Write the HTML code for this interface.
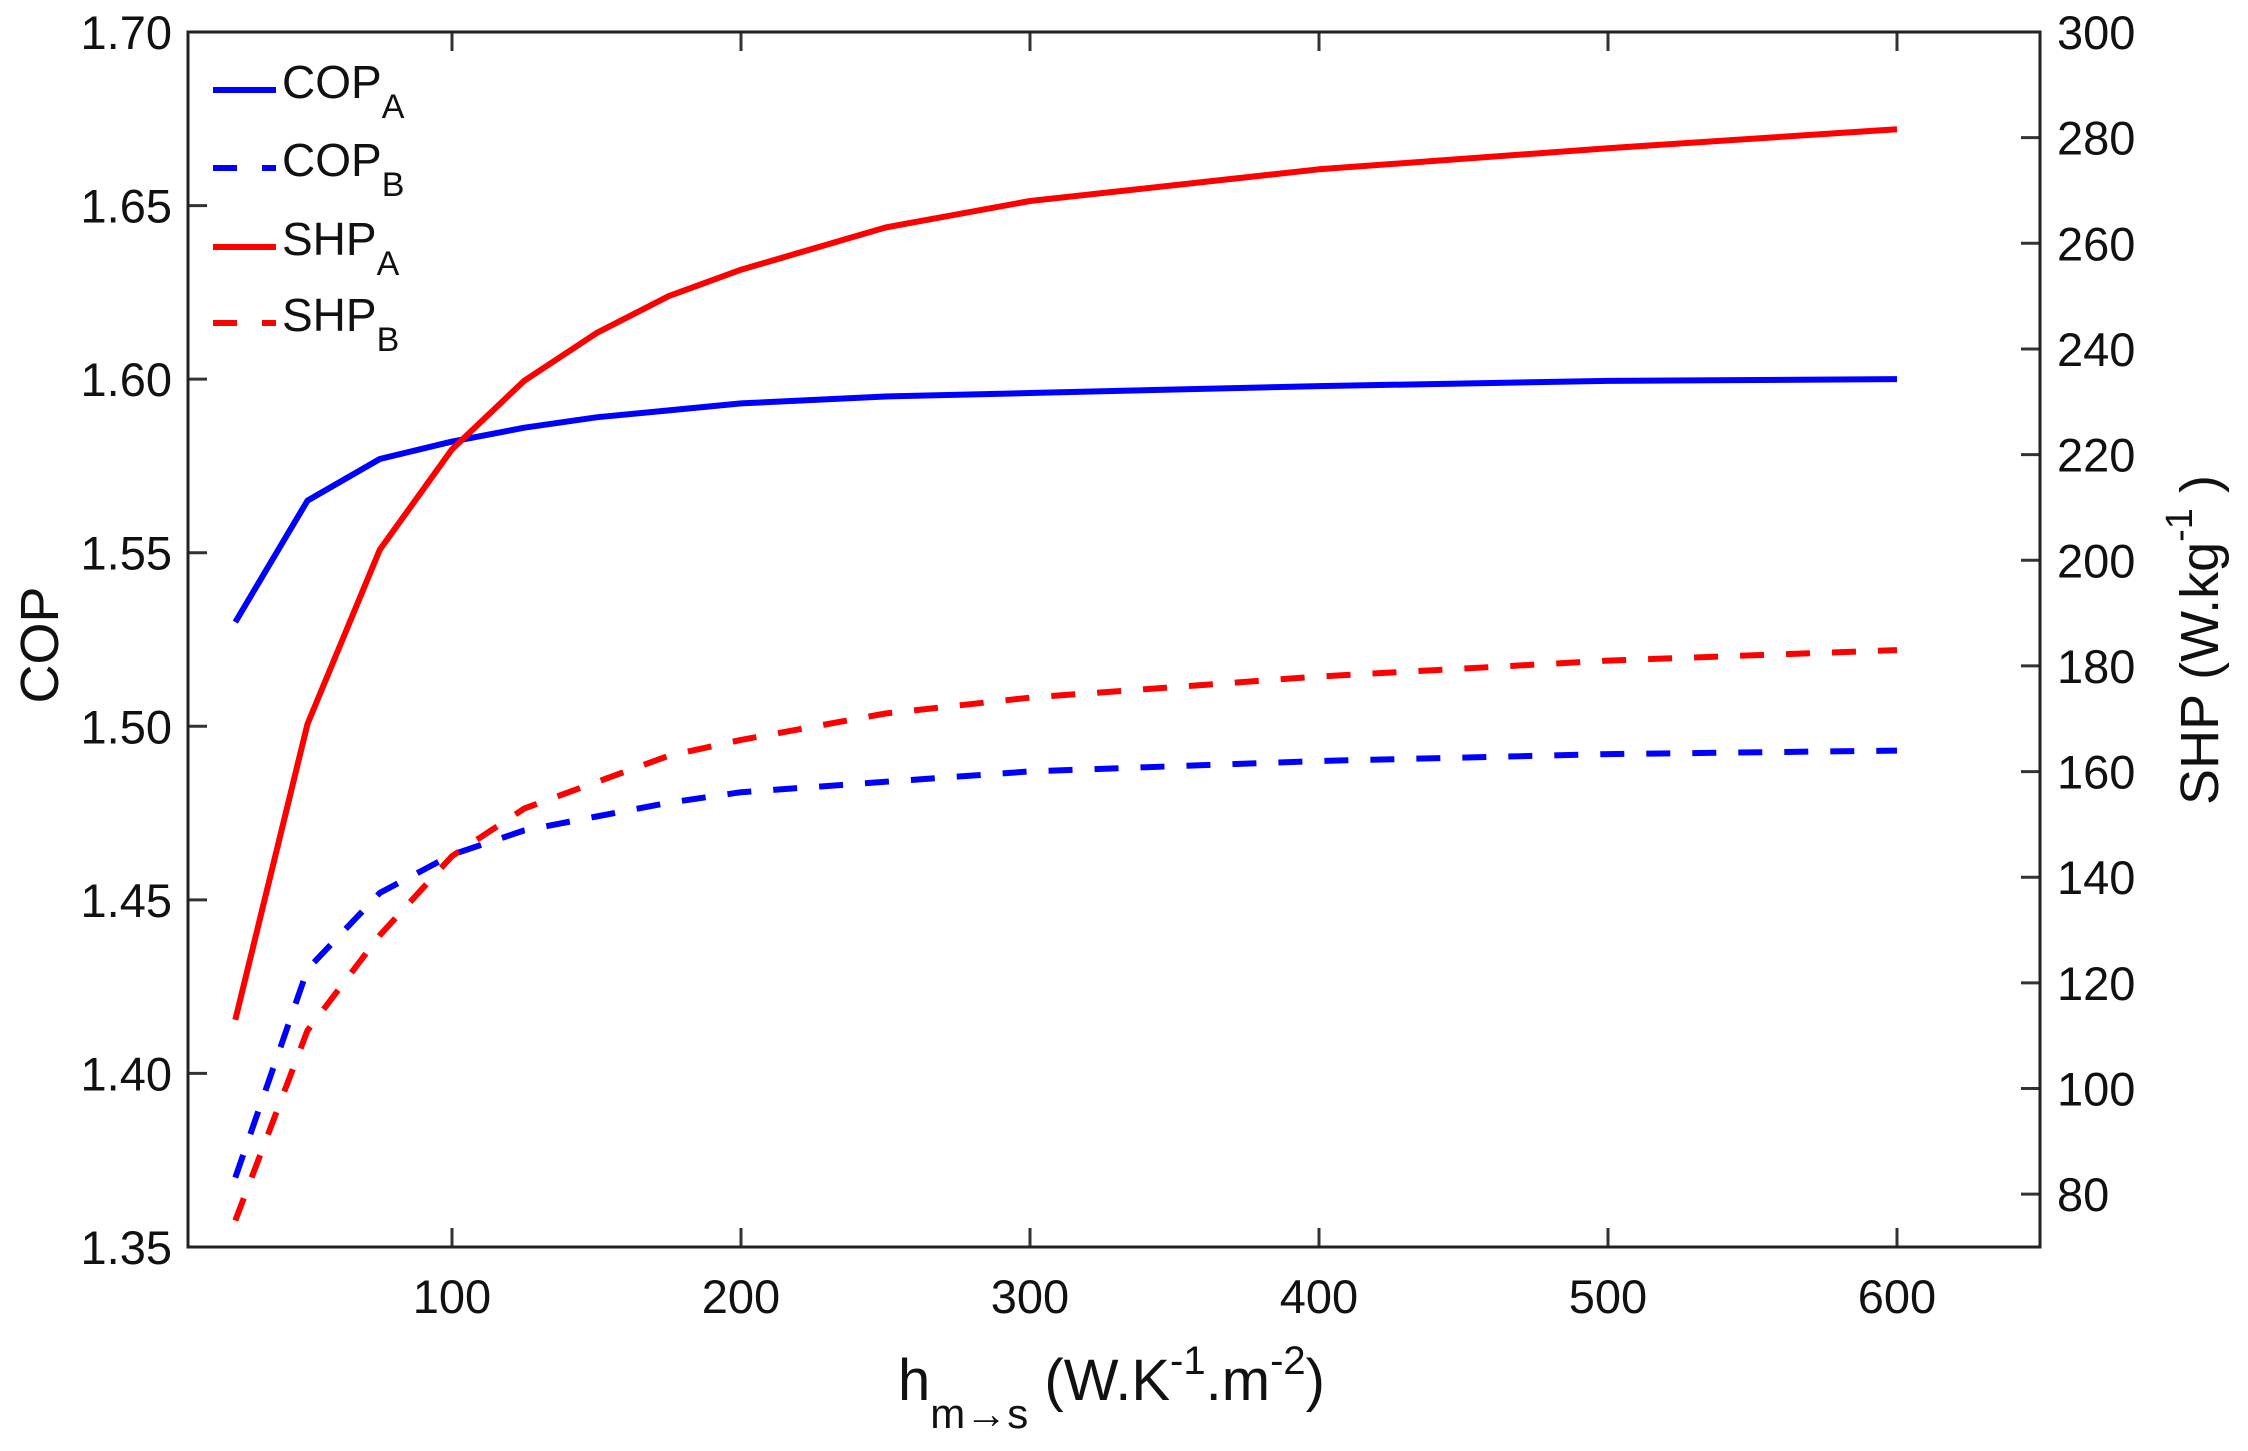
<!DOCTYPE html>
<html><head><meta charset="utf-8"><style>
html,body{margin:0;padding:0;background:#fff;}
svg{display:block;font-family:"Liberation Sans",Arial,sans-serif;}
</style></head><body>
<svg id="s" width="2248" height="1451" viewBox="0 0 2248 1451" xmlns="http://www.w3.org/2000/svg">
<rect width="2248" height="1451" fill="#fff"/>
<g id="ticks" stroke="#333" stroke-width="3"></g>
<rect x="188" y="32" width="1852" height="1215" fill="none" stroke="#222" stroke-width="3"/>
<g id="series" fill="none" stroke-width="6" stroke-linejoin="round"></g>
<g id="labels" font-size="47" fill="#111"></g>
<g font-size="46" fill="#111">
<line x1="213" y1="90" x2="276" y2="90" stroke="#0000ff" stroke-width="6"/>
<line x1="213" y1="168" x2="276" y2="168" stroke="#0000ff" stroke-width="6" stroke-dasharray="24 25"/>
<line x1="213" y1="247" x2="276" y2="247" stroke="#ff0000" stroke-width="6"/>
<line x1="213" y1="323" x2="276" y2="323" stroke="#ff0000" stroke-width="6" stroke-dasharray="24 25"/>
<text x="282" y="98">COP<tspan font-size="34" dy="20">A</tspan></text>
<text x="282" y="176">COP<tspan font-size="34" dy="20">B</tspan></text>
<text x="282" y="255">SHP<tspan font-size="34" dy="20">A</tspan></text>
<text x="282" y="331">SHP<tspan font-size="34" dy="20">B</tspan></text>
<text x="58" y="645" font-size="54" text-anchor="middle" transform="rotate(-90 58 645)">COP</text>
<text x="2218" y="640" font-size="54" text-anchor="middle" transform="rotate(-90 2218 640)">SHP (W.kg<tspan font-size="38" dy="-26">-1</tspan><tspan dy="26"> )</tspan></text>
<text x="898" y="1400" font-size="58">h<tspan font-size="42" dy="28">m→s</tspan><tspan dy="-28"> (W.K</tspan><tspan font-size="40" dy="-26">-1</tspan><tspan dy="26">.m</tspan><tspan font-size="40" dy="-26">-2</tspan><tspan dy="26">)</tspan></text>
</g>
</svg>
<script>
var NS="http://www.w3.org/2000/svg";
function X(v){return 163+v*2.89;}
function YL(v){return 1247-(v-1.35)/0.35*1215;}
function YR(v){return 1247-(v-70)/230*1215;}
var t=document.getElementById('ticks'),L=document.getElementById('labels'),S=document.getElementById('series');
function el(p,n,a,txt){var e=document.createElementNS(NS,n);for(var k in a)e.setAttribute(k,a[k]);if(txt)e.textContent=txt;p.appendChild(e);return e;}
for(var v=100;v<=600;v+=100){var x=X(v);el(t,'line',{x1:x,y1:1247,x2:x,y2:1228});el(t,'line',{x1:x,y1:32,x2:x,y2:51});el(L,'text',{x:x,y:1313,'text-anchor':'middle'},String(v));}
for(var i=0;i<=7;i++){var v=1.35+i*0.05,y=YL(v);el(t,'line',{x1:188,y1:y,x2:207,y2:y});el(L,'text',{x:172,y:y+17,'text-anchor':'end'},v.toFixed(2));}
for(var v=80;v<=300;v+=20){var y=YR(v);el(t,'line',{x1:2040,y1:y,x2:2021,y2:y});el(L,'text',{x:2057,y:y+17},String(v));}
var xs=[25,50,75,100,125,150,175,200,250,300,400,500,600];
var copA=[1.530,1.565,1.577,1.582,1.586,1.589,1.591,1.593,1.595,1.596,1.598,1.5995,1.600];
var copB=[1.370,1.430,1.452,1.463,1.470,1.474,1.478,1.481,1.484,1.487,1.490,1.492,1.493];
var shpA=[113,169,202,221,234,243,250,255,263,268,274,278,281.6];
var shpB=[75,111,129,144,153,158,163,166,171,174,178,181,183];
function pl(d,f,c,dash){var p=d.map(function(v,i){return X(xs[i]).toFixed(1)+','+f(v).toFixed(1)}).join(' ');var a={points:p,stroke:c};if(dash)a['stroke-dasharray']='24 22';el(S,'polyline',a);}
pl(copA,YL,'#0000ff');pl(copB,YL,'#0000ff',1);pl(shpA,YR,'#ff0000');pl(shpB,YR,'#ff0000',1);
</script>
</body></html>
